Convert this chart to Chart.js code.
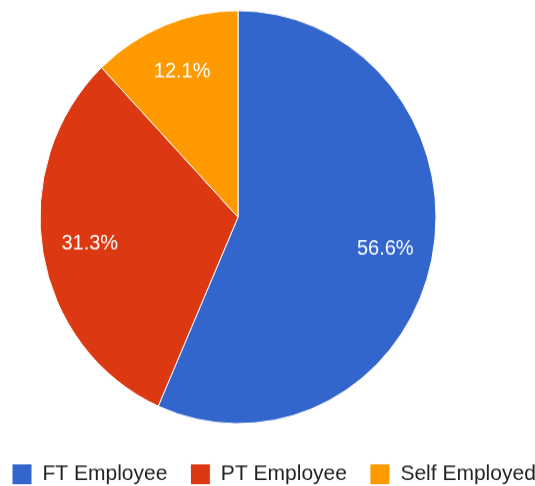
<!DOCTYPE html>
<html>
<head>
<meta charset="utf-8">
<script src="https://cdn.jsdelivr.net/npm/chart.js@4.4.0/dist/chart.umd.min.js"></script>
<style>
  html, body { margin: 0; padding: 0; background: #fff; overflow: hidden; }
  /* canvas runs past the right edge so the legend is cut off like the original;
     the original picture is slightly stretched vertically, hence the scaleY */
  #wrap { position: absolute; left: -11px; top: -5.5px; width: 600px; height: 480px;
          transform: scaleY(1.043); transform-origin: 0 0; }
</style>
</head>
<body>
<div id="wrap"><canvas id="chart" width="600" height="480"></canvas></div>
<script>
const categories = ['FT Employee', 'PT Employee', 'Self Employed'];
const shares = [56.6, 31.3, 12.1];
const sliceColors = ['#3366cc', '#dc3912', '#ff9900'];

const FONT = '"Liberation Sans", Arial, sans-serif';

// percentage text inside each slice
const sliceLabels = {
  id: 'sliceLabels',
  afterDatasetsDraw(chart) {
    const ctx = chart.ctx;
    const meta = chart.getDatasetMeta(0);
    const total = shares.reduce((a, b) => a + b, 0);
    ctx.save();
    ctx.font = '20px ' + FONT;
    ctx.fillStyle = '#ffffff';
    ctx.textAlign = 'center';
    ctx.textBaseline = 'middle';
    meta.data.forEach((arc, i) => {
      const { x, y, startAngle, endAngle, outerRadius } =
        arc.getProps(['x', 'y', 'startAngle', 'endAngle', 'outerRadius'], true);
      const mid = (startAngle + endAngle) / 2;
      const r = outerRadius * 0.76;
      const pct = (shares[i] / total * 100).toFixed(1) + '%';
      ctx.fillText(pct, x + Math.cos(mid) * r, y + Math.sin(mid) * r);
    });
    ctx.restore();
  }
};

const ctx = document.getElementById('chart').getContext('2d');

new Chart(ctx, {
  type: 'pie',
  data: {
    labels: categories,
    datasets: [{
      data: shares,
      backgroundColor: sliceColors,
      borderColor: '#ffffff',
      borderWidth: 1,
      radius: 198,
    }],
  },
  options: {
    responsive: false,
    animation: false,
    layout: { padding: 0 },
    plugins: {
      // empty side block, only used to push the pie left of the legend's centre
      title: {
        display: true,
        position: 'right',
        fullSize: false,
        text: '',
        padding: 45,
        font: { size: 10 },
      },
      legend: {
        position: 'bottom',
        align: 'start',
        labels: {
          boxWidth: 20,
          boxHeight: 20,
          padding: 23,
          color: '#222222',
          font: { family: FONT, size: 21 },
        },
      },
      tooltip: { enabled: false },
    },
  },
  plugins: [sliceLabels],
});
</script>
</body>
</html>
